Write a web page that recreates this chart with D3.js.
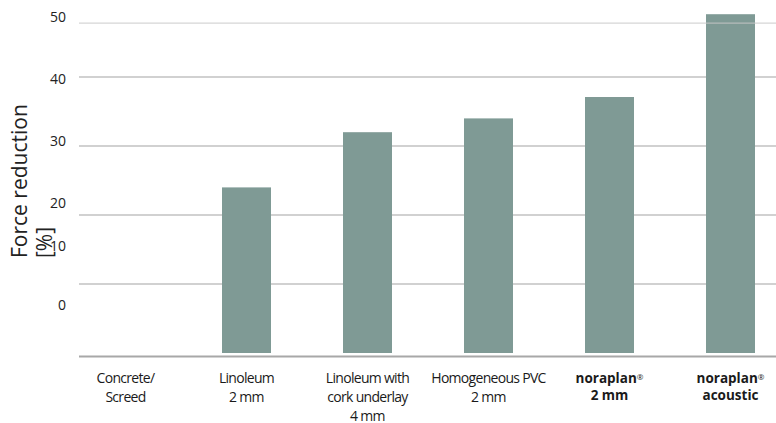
<!DOCTYPE html>
<html><head><meta charset="utf-8">
<script src="https://cdn.jsdelivr.net/npm/d3@7"></script>
<style>
html,body{margin:0;padding:0;background:#fff;}
svg{display:block;font-family:"Open Sans",sans-serif;}
</style></head>
<body><svg id="c" width="776" height="423"></svg>
<script>
const categories = ["Concrete/Screed","Linoleum 2 mm","Linoleum with cork underlay 4 mm","Homogeneous PVC 2 mm","noraplan 2 mm","noraplan acoustic"];
const labelLines = [["Concrete/","Screed"],["Linoleum","2 mm"],["Linoleum with","cork underlay","4 mm"],["Homogeneous PVC","2 mm"],["noraplan®","2 mm"],["noraplan®","acoustic"]];
const boldLabel = [false,false,false,false,true,true];
const values = [0, 24, 32, 34, 37.1, 49.1];
const tickLabels = [0,10,20,30,40,50];
const gridValues = [10,20,30,40,47.8];
const yTitle = ["Force reduction","[%]"];

const svg = d3.select("#c");
const x = d3.scaleBand().domain(categories).range([65,791]).paddingInner(72/121).paddingOuter(36/121);
const y = d3.scaleLinear().domain([0,50]).range([353,8]);
// tick label placement as in the reference (labels are offset from the grid)
const yLab = d3.scaleLinear().domain([0,10,20,50]).range([305,246,203,17]);

const gridX0 = 79, gridX1 = 776;
const topGrid = gridValues[gridValues.length-1];
svg.append("g").selectAll("line").data(gridValues.filter(v=>v!==topGrid)).join("line")
  .attr("x1",gridX0).attr("x2",gridX1).attr("y1",d=>y(d)).attr("y2",d=>y(d))
  .attr("stroke","#c2c2c2").attr("stroke-width",1.3);

svg.append("g").selectAll("rect").data(values).join("rect")
  .attr("x",(d,i)=>x(categories[i])).attr("width",x.bandwidth())
  .attr("y",d=>y(d)).attr("height",d=>y(0)-y(d))
  .attr("fill","#7f9a95");

svg.append("line").attr("x1",gridX0).attr("x2",gridX1).attr("y1",y(topGrid)).attr("y2",y(topGrid))
  .attr("stroke","#c8c8c8").attr("stroke-width",1.3).attr("stroke-opacity",0.75);

// baseline
svg.append("line").attr("x1",gridX0).attr("x2",gridX1).attr("y1",y(0)+3.6).attr("y2",y(0)+3.6)
  .attr("stroke","#a8a8a8").attr("stroke-width",2);

// y tick labels
svg.append("g").selectAll("text").data(tickLabels).join("text")
  .attr("x",66).attr("y",d=>yLab(d)).attr("dy","0.35em").attr("text-anchor","end")
  .attr("font-size",14).attr("fill","#222").text(d=>d);

// y title
const t = svg.append("text").attr("transform","translate(27,258) rotate(-90)")
  .attr("font-size",21).attr("fill","#222");
t.selectAll("tspan").data(yTitle).join("tspan").attr("x",0).attr("dy",(d,i)=>i?25:0).text(d=>d);

// x labels
const xl = svg.append("g").selectAll("text").data(labelLines).join("text")
  .attr("x",(d,i)=>x(categories[i])+x.bandwidth()/2).attr("y",383)
  .attr("text-anchor","middle").attr("font-size",(d,i)=>boldLabel[i]?13.5:14).attr("fill","#1a1a1a")
  .attr("font-weight",(d,i)=>boldLabel[i]?"bold":"normal")
  .attr("letter-spacing",(d,i)=>boldLabel[i]?"0":"-0.7px");
xl.each(function(lines,i){
  const el = d3.select(this);
  lines.forEach((ln,j)=>{
    const ts = el.append("tspan").attr("x",x(categories[i])+x.bandwidth()/2).attr("dy",j?(boldLabel[i]?17:19):0);
    if(ln.endsWith("®")){
      ts.text(ln.slice(0,-1));
      ts.append("tspan").attr("font-size",8).attr("baseline-shift","3").attr("font-weight","normal").text("®");
    } else ts.text(ln);
  });
});
</script></body></html>
